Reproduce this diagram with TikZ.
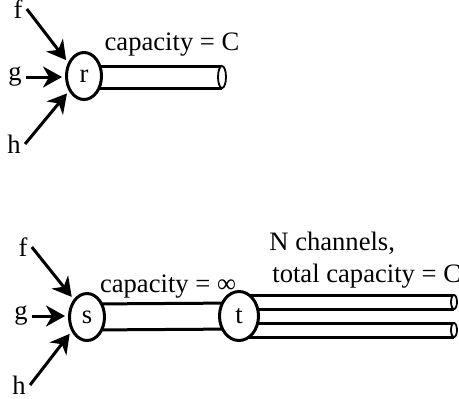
\documentclass[tikz,border=0pt]{standalone}
\usepackage{fontspec}
\setmainfont{Liberation Serif}
\usepackage{tikz}
\usetikzlibrary{backgrounds,shapes.geometric,arrows.meta}
\tikzstyle{hub} = [ellipse,draw,fill=white,line width=1.5pt,minimum width=17.5pt,minimum height=23.5pt,inner sep=0pt]
\tikzstyle{pipeend} = [ellipse,draw,fill=white,line width=0.9pt,outer sep=0pt,inner sep=0pt]
\tikzstyle{feed} = [line width=1.5pt,-{Stealth[length=9.5pt,width=10.5pt,inset=3pt]},shorten >=1.5pt]
\tikzstyle{tube} = [line width=1.5pt]

\begin{document}
\begin{tikzpicture}[x=0.5pt,y=-0.5pt,
        every node/.style={font=\fontsize{13.3}{16}\selectfont,inner sep=2pt}]
        \useasboundingbox (0,0) rectangle (459,398);

        % one channel
        \node[hub] (r) at (84,76) {r};
        \node (f1) at (18,9) {f};
        \node (g1) at (15,77) {g};
        \node (h1) at (14,144) {h};
        \node[pipeend,minimum width=4pt,minimum height=11pt] (rend) at (222,77) {};
        \node (capr) at (172,45) {capacity = C};

        \draw[feed] (f1.east) -- (r.140);
        \draw[feed] (g1.east) -- (g1.east -| r.west);
        \draw[feed] (h1.east) -- (r.225);

        % split into N channels
        \node[hub] (s) at (87,317) {s};
        \node[hub,minimum width=19.5pt,minimum height=24.5pt] (t) at (239,316) {t};
        \node (f2) at (23,247) {f};
        \node (g2) at (21,316) {g};
        \node (h2) at (19,385) {h};
        \node[pipeend,minimum width=3pt,minimum height=7pt] (k1) at (454,302) {};
        \node[pipeend,minimum width=3pt,minimum height=7pt] (k2) at (454,330) {};
        \node (caps) at (168,287) {capacity = ∞};
        \node[align=left,anchor=west] (capt) at (265,260) {N channels,\\\hspace{1.5pt}total capacity = C};

        \draw[feed] (f2.east) -- (s.127);
        \draw[feed] (g2.east) -- (g2.east -| s.west);
        \draw[feed] (h2.east) -- (s.223);

        % pipes
        \begin{scope}[on background layer]
          \draw[tube] (rend.north) -- (rend.north -| r.center);
          \draw[tube] (rend.south) -- (rend.south -| r.center);
          \draw[tube] ([yshift=6.5pt]s.center) -- ([yshift=6.5pt]t.center);
          \draw[tube] ([yshift=-6.5pt]s.center) -- ([yshift=-6.5pt]t.center);
          \foreach \k in {k1,k2} {
            \draw[tube] (\k.north) -- (\k.north -| t.center);
            \draw[tube] (\k.south) -- (\k.south -| t.center);
          }
        \end{scope}
      \end{tikzpicture}
\end{document}
